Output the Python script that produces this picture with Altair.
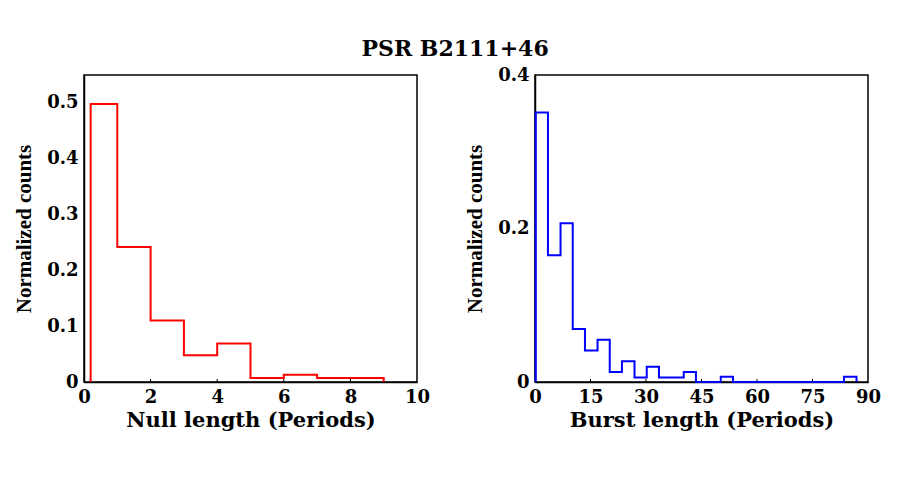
import altair as alt
import pandas as pd

# Null-length histogram (left panel)
null_edges = [0.2, 1, 2, 3, 4, 5, 6, 7, 8, 9]
null_counts = [0.498, 0.242, 0.110, 0.048, 0.069, 0.007, 0.013, 0.007, 0.007]

# Burst-length histogram (right panel)
burst_edges = [0.2, 3.5, 6.9, 10.2, 13.5, 16.9, 20.2, 23.5, 26.9, 30.2, 33.5, 36.9,
               40.2, 43.5, 46.9, 50.2, 53.5, 56.9, 60.2, 63.5, 66.9, 70.2, 73.5,
               76.9, 80.2, 83.5, 86.9]
burst_counts = [0.351, 0.165, 0.207, 0.069, 0.041, 0.055, 0.013, 0.027, 0.006,
                0.020, 0.006, 0.006, 0.013, 0.0, 0.0, 0.007, 0.0, 0.0, 0.0, 0.0,
                0.0, 0.0, 0.0, 0.0, 0.0, 0.007]

null_xticks = [0, 2, 4, 6, 8, 10]
null_yticks = [0, 0.1, 0.2, 0.3, 0.4, 0.5]
burst_xticks = [0, 15, 30, 45, 60, 75, 90]
burst_yticks = [0, 0.2, 0.4]

W, H = 333, 307
TICK_FONT = "DejaVu Serif"
YTITLE_FONT = "Liberation Serif"


def step_frame(edges, counts):
    xs = [edges[0]] + list(edges[:-1]) + [edges[-1]]
    ys = [0.0] + list(counts) + [0.0]
    return pd.DataFrame({"x": xs, "y": ys, "order": list(range(len(xs)))})


def panel(edges, counts, color, xdom, xticks, ydom, yticks, xtitle):
    df = step_frame(edges, counts)
    xscale = alt.Scale(domain=xdom, nice=False, zero=False)
    yscale = alt.Scale(domain=ydom, nice=False)
    line = alt.Chart(df).mark_line(
        interpolate="step-after", color=color, strokeWidth=2
    ).encode(
        x=alt.X("x:Q", scale=xscale,
                axis=alt.Axis(values=xticks, title=xtitle, labelFlush=False,
                              format="d")),
        y=alt.Y("y:Q", scale=yscale,
                axis=alt.Axis(values=yticks, title="Normalized counts",
                              labelExpr="datum.value == 0 ? '0' : format(datum.value, '.1f')")),
        order="order:Q",
    )
    ticks = alt.Chart(pd.DataFrame({"t": xticks[1:-1]})).mark_rule(
        color="black", strokeWidth=1
    ).encode(
        x=alt.X("t:Q", scale=xscale),
        y=alt.value(H),
        y2=alt.value(H - 3),
    )
    return alt.layer(line, ticks).properties(width=W, height=H)


left = panel(null_edges, null_counts, "#ff0000", [0, 10], null_xticks,
             [0, 0.55], null_yticks, "Null length (Periods)")
right = panel(burst_edges, burst_counts, "#0000ff", [0, 90], burst_xticks,
              [0, 0.4], burst_yticks, "Burst length (Periods)")

chart = alt.hconcat(left, right, spacing=32).properties(
    title=alt.TitleParams("PSR B2111+46", font=TICK_FONT, fontSize=22,
                          fontWeight="bold", anchor="middle", color="black",
                          offset=4, dx=8),
    padding={"left": 4, "top": 30, "right": 5, "bottom": 5},
).configure_view(
    stroke="black", strokeWidth=1.5
).configure_axis(
    grid=False, ticks=False, domainColor="black", domainWidth=1.5,
    labelFont=TICK_FONT, labelFontSize=18, labelFontWeight="bold",
    labelColor="black", labelPadding=6,
    titleColor="black", titleFontWeight="bold",
).configure_axisX(
    titleFont=TICK_FONT, titleFontSize=21, titlePadding=3,
).configure_axisY(
    titleFont=YTITLE_FONT, titleFontSize=21, titlePadding=12,
)

chart.save("out.html", embed_options={"renderer": "svg", "actions": False})
